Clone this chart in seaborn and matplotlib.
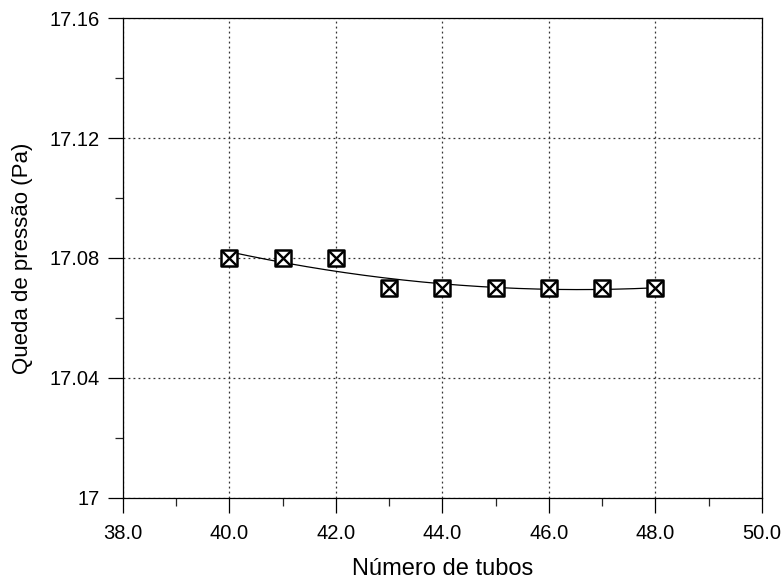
import numpy as np
import pandas as pd
import matplotlib
matplotlib.use("Agg")
import matplotlib.pyplot as plt
from matplotlib.ticker import MultipleLocator, FormatStrFormatter, FuncFormatter
import seaborn as sns

# Measured pressure drop versus number of tubes
n_tubes = [40, 41, 42, 43, 44, 45, 46, 47, 48]
pressure_drop = [17.08, 17.08, 17.08, 17.07, 17.07, 17.07, 17.07, 17.07, 17.07]

x_ticks = [38.0, 40.0, 42.0, 44.0, 46.0, 48.0, 50.0]
y_ticks = [17.0, 17.04, 17.08, 17.12, 17.16]

df = pd.DataFrame({"n": n_tubes, "dp": pressure_drop})

# Second-order least-squares trend through the measurements
coef = np.polyfit(df["n"], df["dp"], 2)
xf = np.linspace(min(n_tubes), max(n_tubes), 200)
fit = pd.DataFrame({"n": xf, "dp": np.polyval(coef, xf)})

sns.set_theme(style="ticks")
plt.rcParams["font.family"] = ["Liberation Sans", "DejaVu Sans"]
plt.rcParams["text.color"] = "black"
plt.rcParams["axes.labelcolor"] = "black"

fig = plt.figure(figsize=(7.83, 5.83), dpi=100)
ax = fig.add_axes([0.157, 0.146, 0.816, 0.823])

sns.lineplot(data=fit, x="n", y="dp", ax=ax, color="black", linewidth=0.9, zorder=3)
sns.scatterplot(data=df, x="n", y="dp", ax=ax, marker="s", s=135,
                facecolor="white", edgecolor="black", linewidth=1.8, zorder=4)
sns.scatterplot(data=df, x="n", y="dp", ax=ax, marker="x", s=110,
                color="black", linewidth=1.7, zorder=5)

ax.set_xlim(38, 50)
ax.set_ylim(17.0, 17.16)
ax.set_xticks(x_ticks)
ax.set_yticks(y_ticks)
ax.xaxis.set_minor_locator(MultipleLocator(1))
ax.yaxis.set_minor_locator(MultipleLocator(0.02))
ax.xaxis.set_major_formatter(FormatStrFormatter("%.1f"))
ax.yaxis.set_major_formatter(FuncFormatter(lambda v, p: f"{v:g}"))

ax.tick_params(which="major", direction="out", length=11, width=0.9,
               labelsize=14.5, colors="black")
ax.tick_params(axis="x", which="major", pad=8)
ax.tick_params(axis="y", which="major", pad=6)
ax.tick_params(which="minor", direction="out", length=6, width=0.9)

for s in ax.spines.values():
    s.set_visible(True)
    s.set_color("black")
    s.set_linewidth(0.9)

ax.grid(True, which="major", linestyle=(0, (1.5, 2.5)), color="#333333", linewidth=0.9)
ax.set_axisbelow(True)

ax.set_xlabel("Número de tubos", fontsize=17)
ax.set_ylabel("Queda de pressão (Pa)", fontsize=16)
ax.xaxis.set_label_coords(0.5, -0.126)
ax.yaxis.set_label_coords(-0.141, 0.5)

fig.savefig("out.png", dpi=100, facecolor="white")
